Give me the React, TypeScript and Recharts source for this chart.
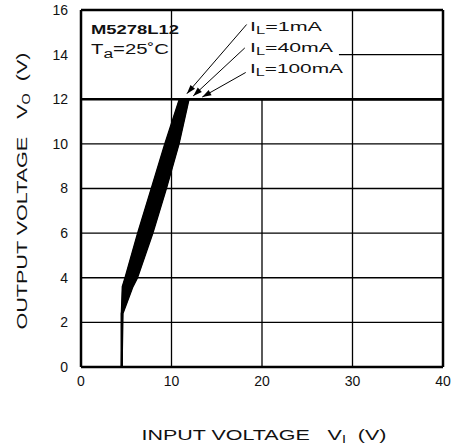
import React from 'react';
import { ComposedChart, Line, Area, XAxis, YAxis, ReferenceLine } from 'recharts';

// Output voltage levels (V) and input voltage readings (V) for each load current
const voLevels = [0, 2.4, 3.6, 4, 6, 8, 10, 12, 12];
const vi1mA = [4.5, 4.5, 4.6, 4.9, 6.3, 7.8, 9.3, 10.9, 40];
const vi40mA = [4.5, 4.5, 5.2, 5.6, 7.2, 8.7, 10.0, 11.4, 40];
const vi100mA = [4.5, 4.6, 5.7, 6.2, 7.9, 9.4, 10.8, 11.9, 40];

const xTicks = [0, 10, 20, 30, 40];
const yTicks = [0, 2, 4, 6, 8, 10, 12, 14, 16];

// Grid segments: [x1, y1, x2, y2]
const gridSegments = [
  [0, 2, 40, 2],
  [0, 4, 40, 4],
  [0, 6, 40, 6],
  [0, 8, 40, 8],
  [0, 10, 40, 10],
  [28.5, 14, 40, 14],
  [10, 0, 10, 16],
  [20, 0, 20, 12],
  [30, 0, 30, 16],
];

// Arrows from labels to curves: [fromX, fromY, toX, toY]
const arrows = [
  [18.3, 15.35, 11.7, 12.25],
  [18.1, 14.3, 12.4, 12.15],
  [18.2, 13.2, 13.4, 12.1],
];

const data = voLevels.map((vo, i) => ({
  vo,
  i1: vi1mA[i],
  i40: vi40mA[i],
  i100: vi100mA[i],
  band: i < voLevels.length - 1 ? [vi1mA[i], vi100mA[i]] : undefined,
}));

const FONT = '"Liberation Sans", Arial, sans-serif';

const ArrowShape = (props: any) => {
  const { x1, y1, x2, y2 } = props;
  if ([x1, y1, x2, y2].some((v) => typeof v !== 'number' || isNaN(v))) return null;
  const ang = Math.atan2(y2 - y1, x2 - x1);
  const L = 9;
  const W = 3;
  const bx = x2 - L * Math.cos(ang);
  const by = y2 - L * Math.sin(ang);
  const px = -Math.sin(ang) * W;
  const py = Math.cos(ang) * W;
  return (
    <g>
      <line x1={x1} y1={y1} x2={x2} y2={y2} stroke="#000" strokeWidth={1} />
      <polygon points={`${x2},${y2} ${bx + px},${by + py} ${bx - px},${by - py}`} fill="#000" />
    </g>
  );
};

const SA = 'spacingAndGlyphs';

export default function App() {
  return (
    <div style={{ position: 'absolute', left: 0, top: 0, width: 451, height: 448, background: '#fff' }}>
      <ComposedChart
        width={451}
        height={448}
        data={data}
        layout="vertical"
        margin={{ top: 10, right: 8, left: 41, bottom: 51 }}
      >
        <XAxis
          type="number"
          domain={[0, 40]}
          ticks={xTicks}
          interval={0}
          tickLine={false}
          tickSize={6}
          tickMargin={3}
          height={30}
          axisLine={{ stroke: '#000', strokeWidth: 2.5 }}
          tick={{ fill: '#111', fontSize: 14, fontFamily: FONT }}
        />
        <YAxis
          type="number"
          dataKey="vo"
          domain={[0, 16]}
          ticks={yTicks}
          interval={0}
          reversed
          tickLine={false}
          tickSize={6}
          tickMargin={7}
          width={40}
          axisLine={{ stroke: '#000', strokeWidth: 2.5 }}
          tick={{ fill: '#111', fontSize: 14, fontFamily: FONT }}
        />
        {gridSegments.map((s, i) => (
          <ReferenceLine
            key={'g' + i}
            segment={[{ x: s[0], y: s[1] }, { x: s[2], y: s[3] }]}
            stroke="#000"
            strokeWidth={1.3}
          />
        ))}
        <ReferenceLine y={12} stroke="#000" strokeWidth={2.5} />
        <ReferenceLine y={16} stroke="#000" strokeWidth={2.5} />
        <ReferenceLine x={40} stroke="#000" strokeWidth={2.5} />
        <Area
          dataKey="band"
          stroke="#000"
          strokeWidth={1}
          fill="#000"
          fillOpacity={1}
          isAnimationActive={false}
          dot={false}
          activeDot={false}
        />
        <Line dataKey="i1" stroke="#000" strokeWidth={2} dot={false} isAnimationActive={false} />
        <Line dataKey="i40" stroke="#000" strokeWidth={2} dot={false} isAnimationActive={false} />
        <Line dataKey="i100" stroke="#000" strokeWidth={2} dot={false} isAnimationActive={false} />
        {arrows.map((a, i) => (
          <ReferenceLine
            key={'a' + i}
            segment={[{ x: a[0], y: a[1] }, { x: a[2], y: a[3] }]}
            shape={ArrowShape}
          />
        ))}
      </ComposedChart>
      <svg
        width={451}
        height={448}
        style={{ position: 'absolute', left: 0, top: 0, pointerEvents: 'none' }}
        fontFamily={FONT}
        fill="#111"
      >
        <text x={91} y={34} fontSize={13} fontWeight="bold" textLength={88} lengthAdjust={SA}>
          M5278L12
        </text>
        <text x={91} y={54} fontSize={14} textLength={78} lengthAdjust={SA}>
          T<tspan fontSize={12} dy={4}>a</tspan>
          <tspan dy={-4}>=25˚C</tspan>
        </text>
        <text x={250} y={31} fontSize={13} textLength={72} lengthAdjust={SA}>
          I<tspan fontSize={10} dy={3}>L</tspan>
          <tspan dy={-3}>=1mA</tspan>
        </text>
        <text x={250} y={52} fontSize={13} textLength={83} lengthAdjust={SA}>
          I<tspan fontSize={10} dy={3}>L</tspan>
          <tspan dy={-3}>=40mA</tspan>
        </text>
        <text x={250} y={73} fontSize={13} textLength={93} lengthAdjust={SA}>
          I<tspan fontSize={10} dy={3}>L</tspan>
          <tspan dy={-3}>=100mA</tspan>
        </text>
        <text
          x={0}
          y={0}
          fontSize={15}
          textAnchor="middle"
          textLength={277}
          lengthAdjust={SA}
          transform="translate(27,191) rotate(-90)"
        >
          OUTPUT VOLTAGE{'\u00a0\u00a0\u00a0'}V<tspan fontSize={10} dy={3}>O</tspan>
          <tspan dy={-3}>{'\u00a0\u00a0'}(V)</tspan>
        </text>
        <text x={264} y={440} fontSize={15} textAnchor="middle" textLength={245} lengthAdjust={SA}>
          INPUT VOLTAGE{'\u00a0\u00a0\u00a0'}V<tspan fontSize={10} dy={3}>I</tspan>
          <tspan dy={-3}>{'\u00a0\u00a0'}(V)</tspan>
        </text>
      </svg>
    </div>
  );
}
